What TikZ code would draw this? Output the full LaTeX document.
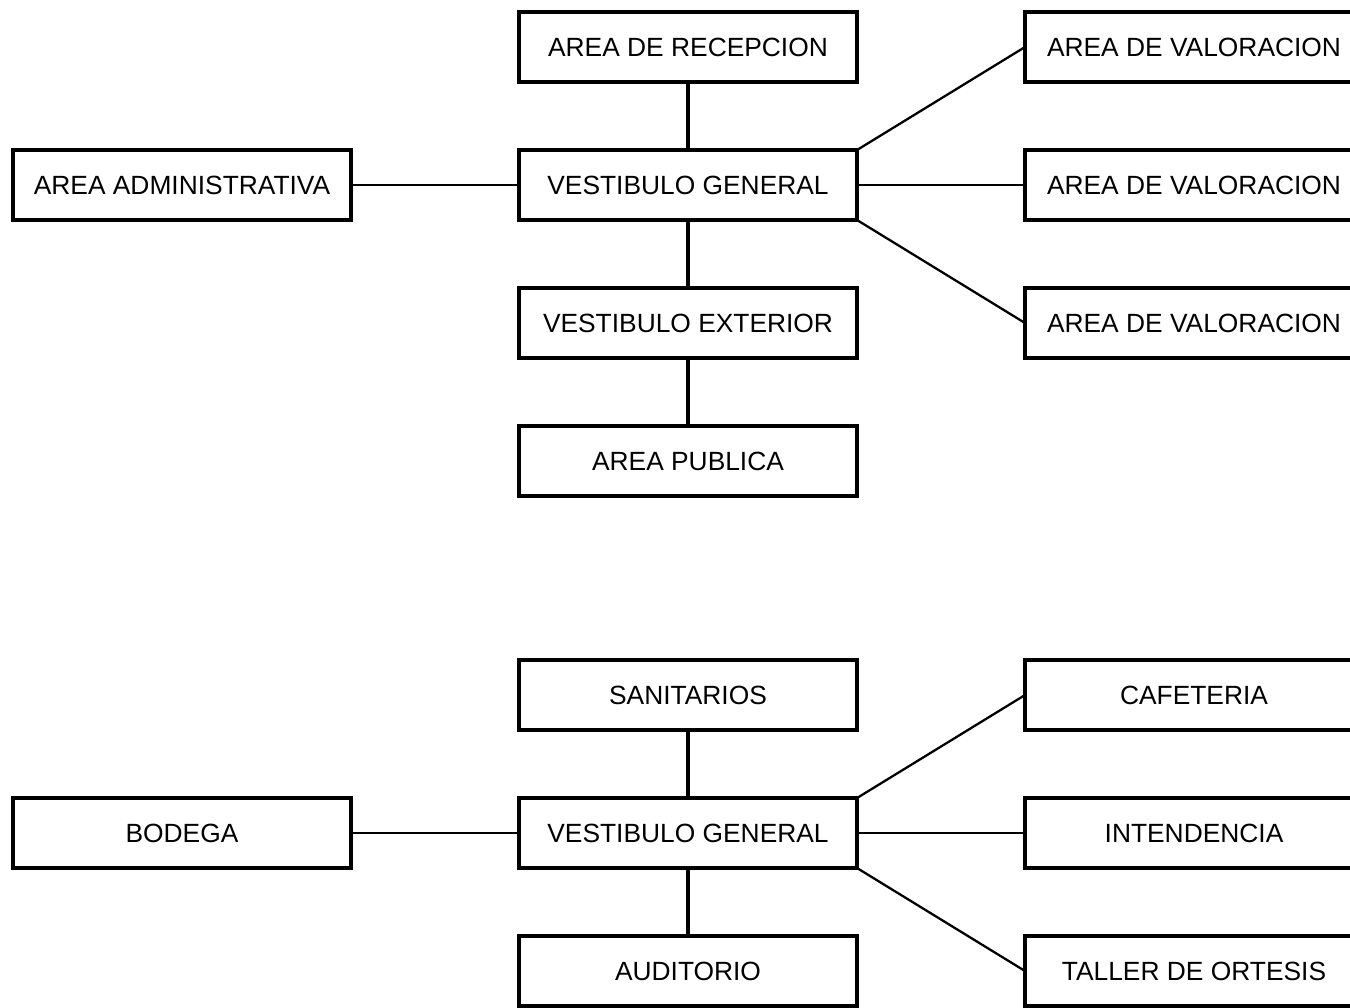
\documentclass[tikz,border=0pt]{standalone}
\usepackage{fontspec}
\setmainfont{Liberation Sans}
\usetikzlibrary{positioning}
\tikzset{
  area/.style={draw=black, line width=2.2pt, fill=white, minimum width=6.76cm, minimum height=1.4cm,
    inner sep=0pt, outer sep=0pt, font=\fontsize{15}{18}\selectfont},
  enlace/.style={draw=black, line width=1.3pt},
  tronco/.style={draw=black, line width=2.2pt}
}
\begin{document}
\begin{tikzpicture}[node distance=1.36cm and 3.36cm]
    \useasboundingbox (0,0) rectangle (27,-20.14);
    \clip (0,0) rectangle (27,-20.14);

    % arriba
    \node[area] (recep) at (13.76,-0.94) {AREA DE RECEPCION};
    \node[area, below=of recep] (vgen) {VESTIBULO GENERAL};
    \node[area, below=of vgen] (vext) {VESTIBULO EXTERIOR};
    \node[area, below=of vext] (pub) {AREA PUBLICA};
    \node[area, left=of vgen] (admin) {AREA ADMINISTRATIVA};
    \node[area, right=of vgen] (val2) {AREA DE VALORACION};
    \node[area, above=of val2] (val1) {AREA DE VALORACION};
    \node[area, below=of val2] (val3) {AREA DE VALORACION};

    \draw[tronco] (recep) -- (vgen);
    \draw[tronco] (vgen) -- (vext);
    \draw[tronco] (vext) -- (pub);
    \draw[enlace] (admin) -- (vgen);
    \draw[enlace] (vgen.north east) -- (val1.west);
    \draw[enlace] (vgen) -- (val2);
    \draw[enlace] (vgen.south east) -- (val3.west);

    % abajo
    \node[area] (sanit) at (13.76,-13.9) {SANITARIOS};
    \node[area, below=of sanit] (vgenb) {VESTIBULO GENERAL};
    \node[area, below=of vgenb] (audit) {AUDITORIO};
    \node[area, left=of vgenb] (bodega) {BODEGA};
    \node[area, right=of vgenb] (inten) {INTENDENCIA};
    \node[area, above=of inten] (cafe) {CAFETERIA};
    \node[area, below=of inten] (taller) {TALLER DE ORTESIS};

    \draw[tronco] (sanit) -- (vgenb);
    \draw[tronco] (vgenb) -- (audit);
    \draw[enlace] (bodega) -- (vgenb);
    \draw[enlace] (vgenb.north east) -- (cafe.west);
    \draw[enlace] (vgenb) -- (inten);
    \draw[enlace] (vgenb.south east) -- (taller.west);
\end{tikzpicture}
\end{document}
